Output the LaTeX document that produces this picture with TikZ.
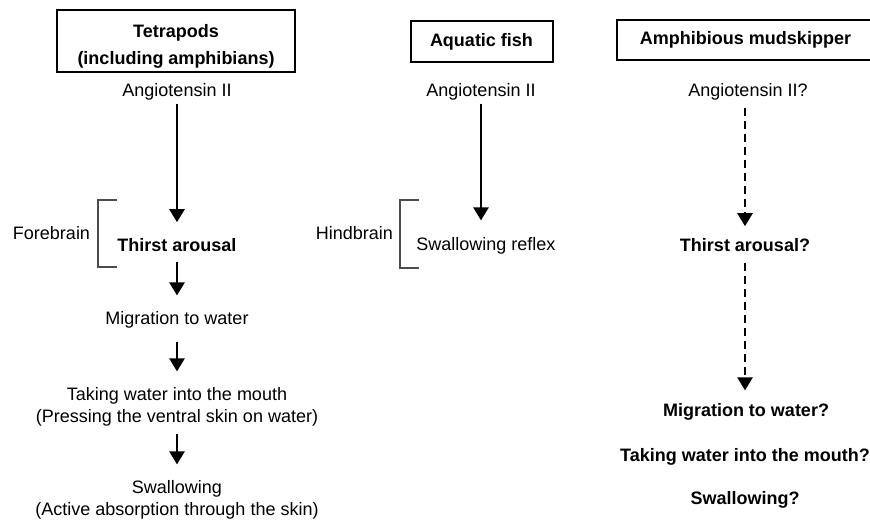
\documentclass[tikz,border=0pt]{standalone}
\usepackage{fontspec}
\setmainfont{Liberation Sans}
\usetikzlibrary{arrows.meta,positioning}

\begin{document}
\begin{tikzpicture}[x=1pt,y=-1pt,
  title/.style={draw,line width=2pt,font=\fontsize{18}{27}\selectfont\bfseries,align=center,inner sep=0pt},
  txt/.style={font=\fontsize{18}{22}\selectfont,align=center,inner sep=0pt},
  btxt/.style={txt,font=\fontsize{18}{22}\selectfont\bfseries},
  arr/.style={-{Triangle[width=15pt,length=13pt]},line width=2.5pt,shorten <=10pt,shorten >=16pt},
  darr/.style={arr,dash pattern=on 8pt off 5pt},
  brace/.style={draw=black!70,line width=1.1pt}]
  \path[use as bounding box] (0,0) rectangle (870,523);
  % headings
  \node[title,minimum width=238,minimum height=62] (tetra) at (176,41) {\rule{0pt}{23pt}Tetrapods\\(including amphibians)};
  \node[title,minimum width=142,minimum height=41] (fish) at (481.5,41.5) {Aquatic fish};
  \node[title,minimum width=257,minimum height=40] (mud) at (745.5,40) {Amphibious mudskipper};
  % tetrapods
  \node[txt] (ang1) at (177,92) {Angiotensin II};
  \node[btxt] (thirst1) at (177,245) {Thirst arousal};
  \node[txt] (migr1) at (177,320) {Migration to water};
  \node[txt] (take1) at (177,407) {Taking water into the mouth\\(Pressing the ventral skin on water)};
  \node[txt] (swal1) at (177,500) {Swallowing\\(Active absorption through the skin)};
  \node[txt] (fore) at (51.5,233) {Forebrain};
  \draw[brace] (117,200) -| (98,267) -- (117,267);
  \draw[arr,shorten <=3pt] (ang1) -- (thirst1);
  \draw[arr] (thirst1) -- (migr1);
  \draw[arr,shorten <=13pt] (migr1) -- (take1);
  \draw[arr,shorten <=7pt] (take1) -- (swal1);
  % aquatic fish
  \node[txt] (ang2) at (481,92) {Angiotensin II};
  \node[txt] (reflex) at (486,246) {Swallowing reflex};
  \node[txt] (hind) at (354.5,233) {Hindbrain};
  \draw[brace] (419,200) -| (400,268) -- (419,268);
  \draw[arr,shorten <=3pt,shorten >=17pt] (ang2) -- (ang2 |- reflex.north);
  % mudskipper
  \node[txt] (ang3) at (748,92) {Angiotensin II?};
  \node[btxt] (thirst3) at (745,245) {Thirst arousal?};
  \node[btxt] (migr3) at (746,412) {Migration to water?};
  \node[btxt] (take3) at (745,457) {Taking water into the mouth?};
  \node[btxt] (swal3) at (745,500) {Swallowing?};
  \draw[darr,shorten <=7pt,shorten >=12pt] (thirst3 |- ang3.south) -- (thirst3);
  \draw[darr,shorten <=11pt,shorten >=13pt] (thirst3) -- (thirst3 |- migr3.north);
\end{tikzpicture}
\end{document}
